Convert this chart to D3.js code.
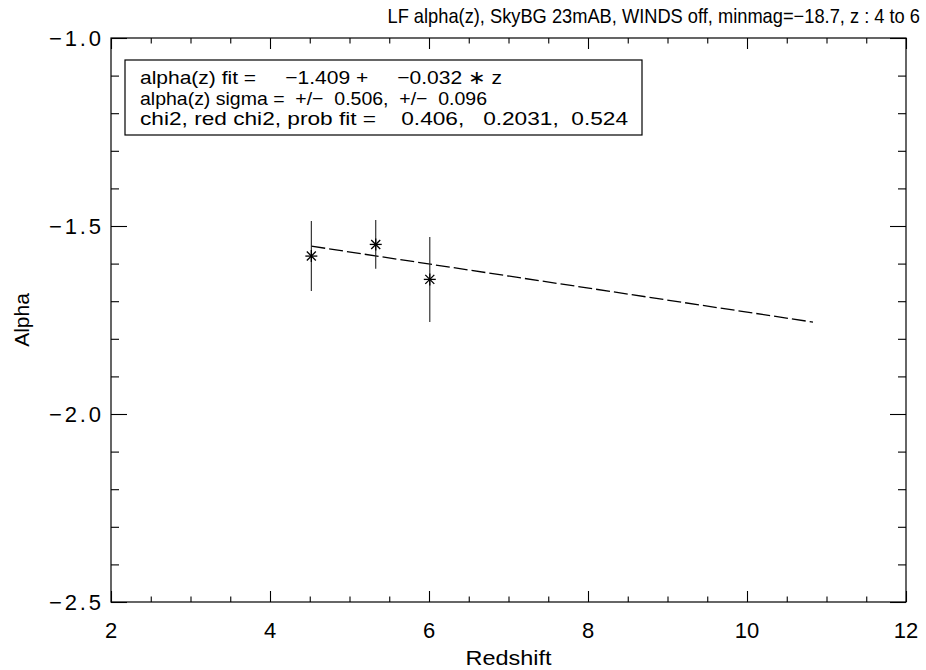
<!DOCTYPE html>
<html>
<head>
<meta charset="utf-8">
<script src="https://cdn.jsdelivr.net/npm/d3@7"></script>
<style>
  html, body { margin: 0; padding: 0; background: #fff; }
  text { font-family: "Liberation Sans", Arial, sans-serif; fill: #000; }
</style>
</head>
<body>
<svg id="chart" width="926" height="670"></svg>
<script>
// ---- data ----
const redshift = [4.52, 5.33, 6.01];
const alpha = [-1.580, -1.549, -1.642];
const alphaErr = [0.093, 0.065, 0.113];
const fitIntercept = -1.409;
const fitSlope = -0.032;
const fitRange = [4.52, 10.83];
const xTicks = [2, 4, 6, 8, 10, 12];
const xTickLabels = ["2", "4", "6", "8", "10", "12"];
const yTicks = [-1.0, -1.5, -2.0, -2.5];
const yTickLabels = ["\u22121.0", "\u22121.5", "\u22122.0", "\u22122.5"];
const titleText = "LF alpha(z), SkyBG 23mAB, WINDS off, minmag=\u221218.7, z : 4 to 6";
const legendLines = [
  "alpha(z) fit =     \u22121.409 +     \u22120.032 \u2217 z",
  "alpha(z) sigma =  +/\u2212  0.506,  +/\u2212  0.096",
  "chi2, red chi2, prob fit =    0.406,   0.2031,  0.524"
];
const legendWidths = [362, 347, 488];

// ---- layout ----
const L = 111, R = 906, T = 38, B = 602;
const svg = d3.select("#chart");
const x = d3.scaleLinear().domain([2, 12]).range([L, R]);
const y = d3.scaleLinear().domain([-2.5, -1.0]).range([B, T]);

const xMajorLen = 11, xMinorLen = 5.5, yMajorLen = 16, yMinorLen = 8;
const xMinor = d3.range(2, 12.001, 0.5);
const yMinor = d3.range(-2.5, -0.999, 0.1);

// frame
svg.append("rect").attr("x", L).attr("y", T).attr("width", R - L).attr("height", B - T)
  .attr("fill", "none").attr("stroke", "#000").attr("stroke-width", 1.2);

function styleAxis(g) {
  g.select(".domain").remove();
  g.selectAll("line").attr("stroke", "#000").attr("stroke-width", 1.1);
}
const isMajorX = v => Math.abs(v / 2 - Math.round(v / 2)) < 1e-6;
const isMajorY = v => Math.abs(v / 0.5 - Math.round(v / 0.5)) < 1e-6;

// bottom
svg.append("g").attr("transform", `translate(0,${B})`)
  .call(d3.axisTop(x).tickValues(xMinor).tickSize(0).tickFormat(""))
  .call(styleAxis)
  .selectAll(".tick line").attr("y2", d => -(isMajorX(d) ? xMajorLen : xMinorLen));
// top
svg.append("g").attr("transform", `translate(0,${T})`)
  .call(d3.axisBottom(x).tickValues(xMinor).tickSize(0).tickFormat(""))
  .call(styleAxis)
  .selectAll(".tick line").attr("y2", d => (isMajorX(d) ? xMajorLen : xMinorLen));
// left
svg.append("g").attr("transform", `translate(${L},0)`)
  .call(d3.axisRight(y).tickValues(yMinor).tickSize(0).tickFormat(""))
  .call(styleAxis)
  .selectAll(".tick line").attr("x2", d => (isMajorY(d) ? yMajorLen : yMinorLen));
// right
svg.append("g").attr("transform", `translate(${R},0)`)
  .call(d3.axisLeft(y).tickValues(yMinor).tickSize(0).tickFormat(""))
  .call(styleAxis)
  .selectAll(".tick line").attr("x2", d => -(isMajorY(d) ? yMajorLen : yMinorLen));

// tick labels
svg.append("g").selectAll("text").data(xTicks).join("text")
  .attr("x", d => x(d)).attr("y", B + 36)
  .attr("text-anchor", "middle").attr("font-size", 22)
  .text((d, i) => xTickLabels[i]);
svg.append("g").selectAll("text").data(yTicks).join("text")
  .attr("x", L - 10).attr("y", d => y(d) + 8)
  .attr("text-anchor", "end").attr("font-size", 22)
  .attr("textLength", 52).attr("lengthAdjust", "spacing")
  .text((d, i) => yTickLabels[i]);

// axis titles
svg.append("text").attr("x", (L + R) / 2).attr("y", 665)
  .attr("text-anchor", "middle").attr("font-size", 21)
  .attr("textLength", 86).attr("lengthAdjust", "spacingAndGlyphs").text("Redshift");
svg.append("text").attr("transform", `translate(29,${(T + B) / 2}) rotate(-90)`)
  .attr("text-anchor", "middle").attr("font-size", 21).text("Alpha");

// title: natural width, then horizontally scaled to the reference width
const title = svg.append("text").attr("x", 0).attr("y", 0)
  .attr("text-anchor", "end").attr("font-size", 20)
  .text(titleText);
const natW = title.node().getComputedTextLength();
title.attr("transform", `translate(920,23) scale(${533 / natW},1)`);

// legend box
const lg = svg.append("g");
lg.append("rect").attr("x", 125).attr("y", 60).attr("width", 517).attr("height", 75)
  .attr("fill", "none").attr("stroke", "#000").attr("stroke-width", 1.2);
lg.selectAll("text").data(legendLines).join("text")
  .attr("x", 140).attr("y", (d, i) => 84 + i * 20.5)
  .attr("font-size", 19).style("white-space", "pre")
  .attr("textLength", (d, i) => legendWidths[i]).attr("lengthAdjust", "spacingAndGlyphs")
  .text(d => d);

// fit line
const fitLine = d3.line().x(d => x(d)).y(d => y(fitIntercept + fitSlope * d));
svg.append("path").datum(fitRange).attr("d", fitLine)
  .attr("fill", "none").attr("stroke", "#000").attr("stroke-width", 1.3)
  .attr("stroke-dasharray", "14,4");

// error bars
svg.append("g").selectAll("line").data(redshift).join("line")
  .attr("x1", d => x(d)).attr("x2", d => x(d))
  .attr("y1", (d, i) => y(alpha[i] + alphaErr[i]))
  .attr("y2", (d, i) => y(alpha[i] - alphaErr[i]))
  .attr("stroke", "#222").attr("stroke-width", 1.1);

// asterisk markers
const s = 6;
const star = svg.append("g").selectAll("g").data(redshift).join("g")
  .attr("transform", (d, i) => `translate(${x(d)},${y(alpha[i])})`);
[[-s, 0, s, 0], [0, -s, 0, s], [-s * 0.75, -s * 0.75, s * 0.75, s * 0.75], [-s * 0.75, s * 0.75, s * 0.75, -s * 0.75]]
  .forEach(c => {
    star.append("line").attr("x1", c[0]).attr("y1", c[1]).attr("x2", c[2]).attr("y2", c[3])
      .attr("stroke", "#000").attr("stroke-width", 1.3);
  });
</script>
</body>
</html>
